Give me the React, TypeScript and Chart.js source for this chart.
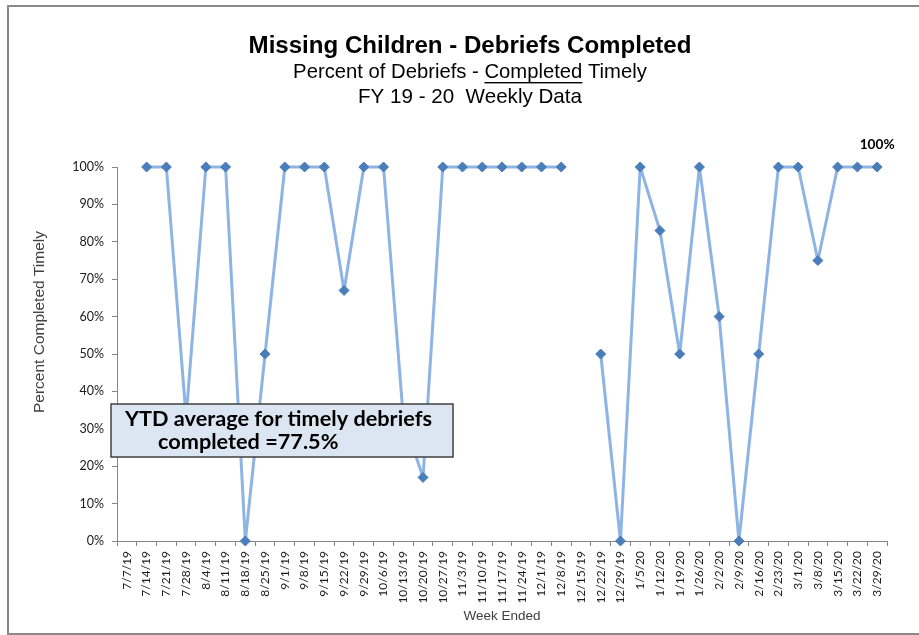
import React, { useEffect, useRef } from 'react';
import { Chart, registerables } from 'chart.js';

Chart.register(...registerables);

const weekLabels: string[] = [
  '7/7/19', '7/14/19', '7/21/19', '7/28/19', '8/4/19', '8/11/19', '8/18/19', '8/25/19',
  '9/1/19', '9/8/19', '9/15/19', '9/22/19', '9/29/19', '10/6/19', '10/13/19', '10/20/19',
  '10/27/19', '11/3/19', '11/10/19', '11/17/19', '11/24/19', '12/1/19', '12/8/19', '12/15/19',
  '12/22/19', '12/29/19', '1/5/20', '1/12/20', '1/19/20', '1/26/20', '2/2/20', '2/9/20',
  '2/16/20', '2/23/20', '3/1/20', '3/8/20', '3/15/20', '3/22/20', '3/29/20',
];

const percentTimely: (number | null)[] = [
  null, 100, 100, 33, 100, 100, 0, 50,
  100, 100, 100, 67, 100, 100, 33, 17,
  100, 100, 100, 100, 100, 100, 100, null,
  50, 0, 100, 83, 50, 100, 60, 0,
  50, 100, 100, 75, 100, 100, 100,
];

const chartTitle = 'Missing Children - Debriefs Completed';
const subtitlePrefix = 'Percent of Debriefs - ';
const subtitleUnderlined = 'Completed';
const subtitleSuffix = ' Timely';
const subtitle2 = 'FY 19 - 20  Weekly Data';
const yAxisTitle = 'Percent Completed Timely';
const xAxisTitle = 'Week Ended';
const ytdLines = ['YTD average for timely debriefs', 'completed =77.5%'];
const lastLabel = '100%';

const TICK_FONT = 'Lato, "Open Sans", sans-serif';
const TITLE_FONT = '"Liberation Sans", Arial, sans-serif';

function fitFont(ctx: CanvasRenderingContext2D, text: string, weight: string, family: string, target: number) {
  ctx.font = `${weight} 20px ${family}`;
  const w = ctx.measureText(text).width;
  const size = (20 * target) / w;
  ctx.font = `${weight} ${size.toFixed(2)}px ${family}`;
  return size;
}

const decor = {
  id: 'decor',
  beforeDraw(chart: any) {
    const ctx = chart.ctx as CanvasRenderingContext2D;
    ctx.save();
    ctx.fillStyle = '#ffffff';
    ctx.fillRect(0, 0, chart.width, chart.height);
    ctx.strokeStyle = '#8a8a8a';
    ctx.lineWidth = 2;
    ctx.beginPath();
    ctx.moveTo(chart.width + 2, 6);
    ctx.lineTo(8, 6);
    ctx.lineTo(8, 634);
    ctx.lineTo(chart.width + 2, 634);
    ctx.stroke();

    // titles
    const cx = 470;
    ctx.fillStyle = '#000000';
    ctx.textBaseline = 'middle';
    ctx.textAlign = 'center';
    fitFont(ctx, chartTitle, 'bold', TITLE_FONT, 443);
    ctx.fillText(chartTitle, cx, 46);

    const full = subtitlePrefix + subtitleUnderlined + subtitleSuffix;
    fitFont(ctx, full, 'normal', TITLE_FONT, 354);
    const fw = ctx.measureText(full).width;
    const pw = ctx.measureText(subtitlePrefix).width;
    const uw = ctx.measureText(subtitleUnderlined).width;
    const sx = cx - fw / 2;
    ctx.textAlign = 'left';
    ctx.fillText(full, sx, 72);
    ctx.fillRect(sx + pw, 82, uw, 1.4);

    ctx.textAlign = 'center';
    fitFont(ctx, subtitle2, 'normal', TITLE_FONT, 224);
    ctx.fillText(subtitle2, cx, 97);

    // axis titles
    ctx.fillStyle = '#404040';
    fitFont(ctx, xAxisTitle, 'normal', TITLE_FONT, 77);
    ctx.fillText(xAxisTitle, 502, 616);
    ctx.save();
    ctx.translate(40, 322);
    ctx.rotate(-Math.PI / 2);
    fitFont(ctx, yAxisTitle, 'normal', TITLE_FONT, 182);
    ctx.fillText(yAxisTitle, 0, 0);
    ctx.restore();
    ctx.restore();
  },
  afterDatasetsDraw(chart: any) {
    const ctx = chart.ctx as CanvasRenderingContext2D;
    ctx.save();
    // data label on last point
    const meta = chart.getDatasetMeta(0);
    const last = meta.data[meta.data.length - 1];
    ctx.fillStyle = '#000000';
    ctx.textAlign = 'center';
    ctx.textBaseline = 'middle';
    fitFont(ctx, lastLabel, 'bold', TICK_FONT, 35);
    ctx.fillText(lastLabel, last.x, last.y - 22);

    // YTD annotation box
    const bx = 111, by = 404, bw = 342, bh = 53;
    ctx.fillStyle = '#dce6f2';
    ctx.fillRect(bx, by, bw, bh);
    ctx.strokeStyle = '#404040';
    ctx.lineWidth = 1.5;
    ctx.strokeRect(bx, by, bw, bh);
    ctx.fillStyle = '#000000';
    ctx.textAlign = 'left';
    fitFont(ctx, ytdLines[0], 'bold', TICK_FONT, 307);
    ctx.fillText(ytdLines[0], 125, 419);
    ctx.fillText(ytdLines[1], 158, 442);
    ctx.restore();
  },
};

export default function App() {
  const ref = useRef<HTMLCanvasElement>(null);
  useEffect(() => {
    if (!ref.current) return;
    const chart = new Chart(ref.current, {
      type: 'line',
      data: {
        labels: weekLabels,
        datasets: [
          {
            data: percentTimely,
            borderColor: '#8eb4e3',
            borderWidth: 3,
            borderJoinStyle: 'round',
            borderCapStyle: 'round',
            pointStyle: 'rectRot',
            pointRadius: 5,
            pointBackgroundColor: '#4a7ebb',
            pointBorderColor: '#4a7ebb',
            pointBorderWidth: 1,
            spanGaps: false,
            tension: 0,
            clip: false,
          } as any,
        ],
      },
      options: {
        animation: false,
        responsive: false,
        devicePixelRatio: 1,
        layout: { padding: { top: 167, left: 0, right: 32, bottom: 0 } },
        plugins: {
          legend: { display: false },
          tooltip: { enabled: false },
          title: { display: false },
        },
        scales: {
          x: {
            type: 'category',
            offset: true,
            grid: {
              offset: true,
              drawOnChartArea: false,
              drawTicks: true,
              tickLength: 5,
              color: '#868686',
            },
            border: { display: true, color: '#868686', width: 1 },
            ticks: {
              autoSkip: false,
              maxRotation: 90,
              minRotation: 90,
              padding: 5,
              color: '#1a1a1a',
              font: { family: TICK_FONT, size: 12 },
            },
            afterFit(scale: any) {
              scale.height = 94;
            },
          },
          y: {
            min: 0,
            max: 100,
            grid: {
              drawOnChartArea: false,
              drawTicks: true,
              tickLength: 5,
              color: '#868686',
            },
            border: { display: true, color: '#868686', width: 1 },
            ticks: {
              stepSize: 10,
              padding: 8,
              color: '#1a1a1a',
              font: { family: TICK_FONT, size: 12.5 },
              callback: (v: any) => `${v}%`,
            },
            afterFit(scale: any) {
              scale.width = 117;
            },
          },
        },
      },
      plugins: [decor],
    });
    return () => chart.destroy();
  }, []);

  return (
    <div style={{ position: 'fixed', left: 0, top: 0, width: 919, height: 635, background: '#fff' }}>
      <canvas ref={ref} width={919} height={635} style={{ display: 'block' }} />
    </div>
  );
}
